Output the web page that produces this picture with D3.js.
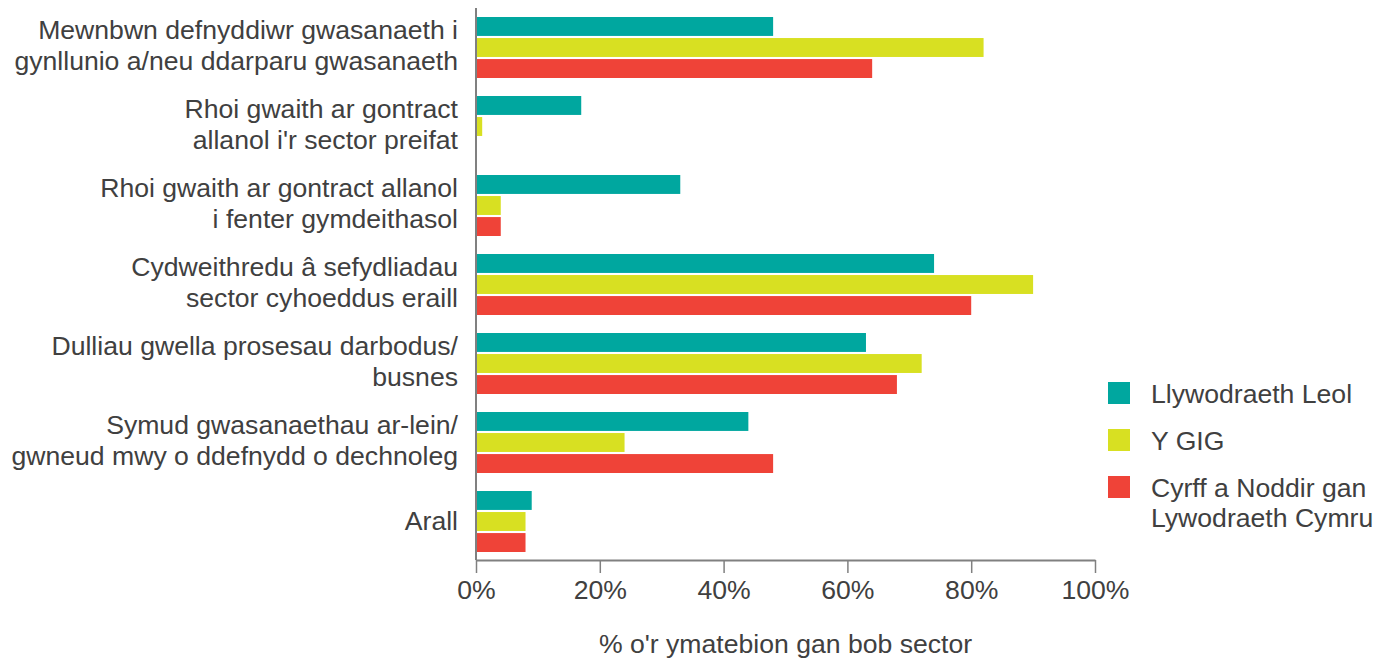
<!DOCTYPE html>
<html><head><meta charset="utf-8">
<script src="https://cdn.jsdelivr.net/npm/d3@7/dist/d3.min.js"></script>
<style>body{margin:0;background:#fff;} text{font-family:"Liberation Sans",Arial,sans-serif;fill:#404040;}</style>
</head><body><svg id="c" width="1392" height="661"></svg>
<script>
const categories = [
  ["Mewnbwn defnyddiwr gwasanaeth i","gynllunio a/neu ddarparu gwasanaeth"],
  ["Rhoi gwaith ar gontract","allanol i'r sector preifat"],
  ["Rhoi gwaith ar gontract allanol","i fenter gymdeithasol"],
  ["Cydweithredu â sefydliadau","sector cyhoeddus eraill"],
  ["Dulliau gwella prosesau darbodus/","busnes"],
  ["Symud gwasanaethau ar-lein/","gwneud mwy o ddefnydd o dechnoleg"],
  ["Arall"]
];
const legendLabels = [["Llywodraeth Leol"],["Y GIG"],["Cyrff a Noddir gan","Lywodraeth Cymru"]];
const llywodraethLeol = [48,17,33,74,63,44,9];
const yGIG = [82,1,4,90,72,24,8];
const cyrff = [64,0,4,80,68,48,8];
const colors = ["#00A79F","#D8E022","#EF4338"];
const xTicks = [0,20,40,60,80,100];
const xTitle = "% o'r ymatebion gan bob sector";

const FS = 26.6;
const series = [llywodraethLeol, yGIG, cyrff];
const svg = d3.select("#c");
const x = d3.scaleLinear().domain([0,100]).range([476,1095]);
const y = d3.scaleBand().domain(d3.range(categories.length)).range([8,561]).paddingInner(0.228).paddingOuter(0.114);
const ys = d3.scaleBand().domain(d3.range(3)).range([0,y.bandwidth()]).paddingInner(0.1);

const g = svg.append("g");
categories.forEach((c,i)=>{
  g.selectAll(null).data(series.map((s,j)=>({v:s[i],j}))).enter().append("rect")
    .attr("x",x(0)).attr("y",d=>y(i)+ys(d.j)).attr("height",ys.bandwidth())
    .attr("width",d=>x(d.v)-x(0)).attr("fill",d=>colors[d.j]);
});

// y axis line
svg.append("line").attr("x1",x(0)).attr("x2",x(0)).attr("y1",8).attr("y2",560)
  .attr("stroke","#808080").attr("stroke-width",2);

// x axis
const xa = svg.append("g").attr("transform","translate(0,560)")
  .call(d3.axisBottom(x).tickValues(xTicks).tickFormat(d=>d+"%").tickSize(13).tickSizeOuter(0));
xa.select(".domain").attr("stroke","#808080").attr("stroke-width",2);
xa.selectAll(".tick line").attr("stroke","#808080").attr("stroke-width",1.5);
xa.selectAll(".tick text").attr("font-size",FS).attr("fill","#404040")
  .attr("font-family","Liberation Sans, Arial, sans-serif").attr("y",39).attr("dy",0);

svg.append("text").attr("x",(x(0)+x(100))/2).attr("y",653).attr("text-anchor","middle")
  .attr("font-size",FS).text(xTitle);

// category labels
const lh = 31.5;
categories.forEach((lines,i)=>{
  const cy = y(i)+y.bandwidth()/2;
  const off = lines.length>1 ? 7 : 8.5;
  const t = svg.append("text").attr("text-anchor","end").attr("font-size",FS);
  lines.forEach((l,k)=>{
    t.append("tspan").attr("x",458).attr("y",cy+off + (k-(lines.length-1)/2)*lh).text(l);
  });
});

// legend
legendLabels.forEach((lines,i)=>{
  const ty = 382 + i*47;
  svg.append("rect").attr("x",1108).attr("y",ty).attr("width",22).attr("height",22).attr("fill",colors[i]);
  const t = svg.append("text").attr("font-size",FS);
  lines.forEach((l,k)=>{
    t.append("tspan").attr("x",1151).attr("y",ty+21+k*30).text(l);
  });
});
</script></body></html>
